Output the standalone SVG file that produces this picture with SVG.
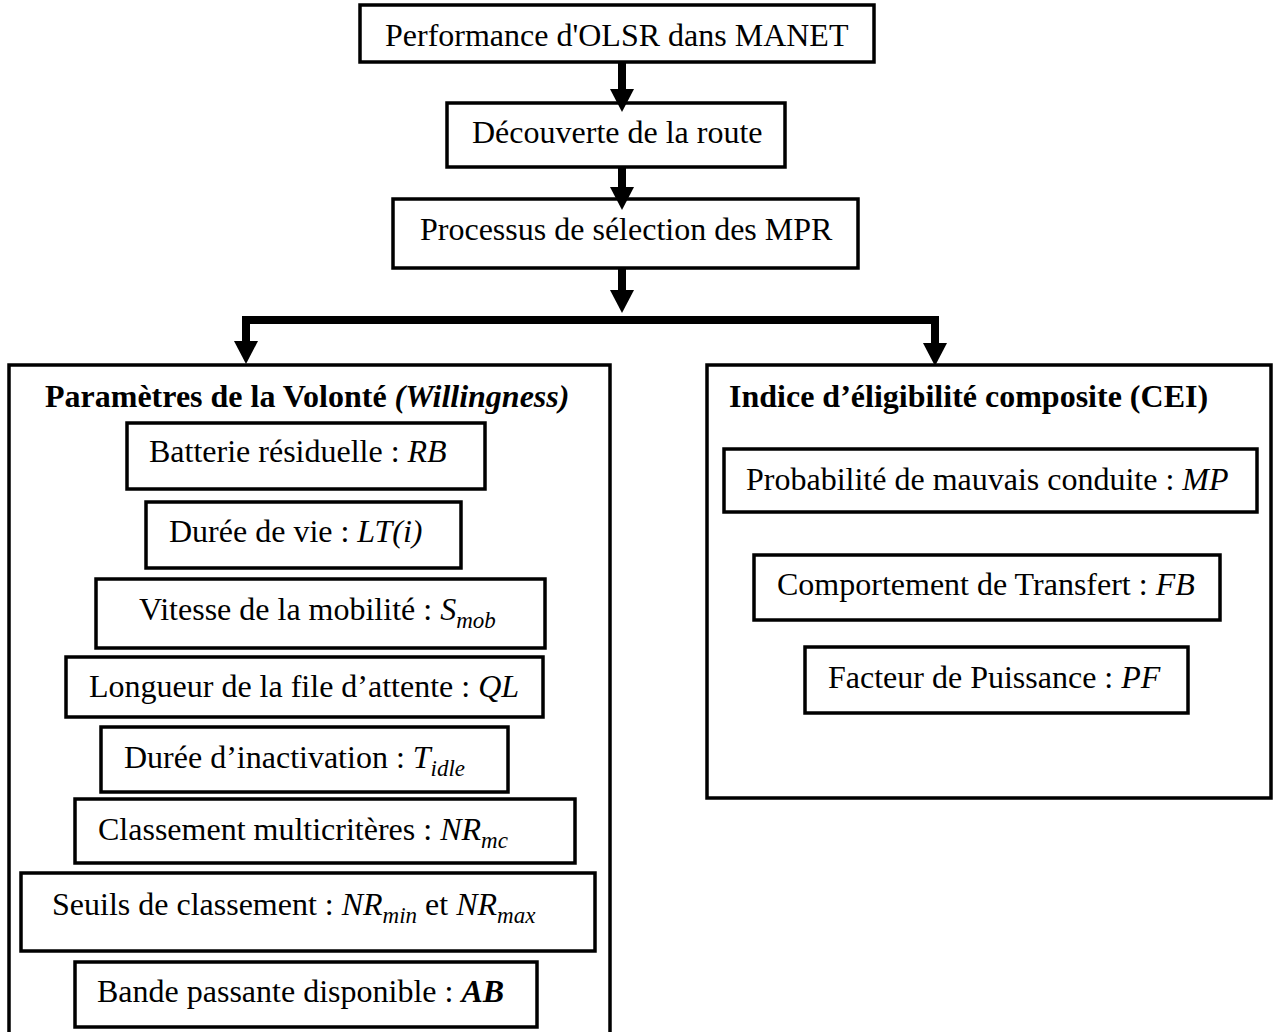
<svg xmlns="http://www.w3.org/2000/svg" width="1273" height="1032" viewBox="0 0 1273 1032">
  <style>
    .box { fill: #ffffff; stroke: #000000; stroke-width: 3.5; }
    .lbl { font-family: "Liberation Serif", "Times New Roman", serif; font-size: 32px; fill: #000000; }
    .ttl { font-family: "Liberation Serif", "Times New Roman", serif; font-size: 32px; font-weight: bold; fill: #000000; }
    .it { font-style: italic; }
    .sub { font-size: 23px; font-style: italic; }
    .wire { fill: none; stroke: #000000; stroke-width: 8; stroke-linejoin: miter; }
  </style>
  <defs>
    <marker id="head" markerUnits="userSpaceOnUse" markerWidth="26" markerHeight="26" refX="2" refY="12" orient="auto">
      <path d="M0,0 L23,12 L0,24 Z" fill="#000000"/>
    </marker>
  </defs>
  <rect width="1273" height="1032" fill="#ffffff"/>

  <!-- outer frames -->
  <g id="willingness">
    <rect class="box" x="9" y="365" width="601" height="690"/>
    <text class="ttl" x="45" y="407">Paramètres de la Volonté <tspan font-style="italic">(Willingness)</tspan></text>
  </g>
  <g id="cei">
    <rect class="box" x="707" y="365" width="564" height="433"/>
    <text class="ttl" x="729" y="407">Indice d’éligibilité composite (CEI)</text>
  </g>

  <!-- main chain -->
  <g id="perf">
    <rect class="box" x="360" y="5" width="514" height="57"/>
    <text class="lbl" x="385" y="46">Performance d'OLSR dans MANET</text>
  </g>
  <g id="route">
    <rect class="box" x="447" y="103" width="338" height="64"/>
    <text class="lbl" x="472" y="143">Découverte de la route</text>
  </g>
  <g id="mpr">
    <rect class="box" x="393" y="199" width="465" height="69"/>
    <text class="lbl" x="420" y="240">Processus de sélection des MPR</text>
  </g>

  <!-- willingness parameters -->
  <g id="rb">
    <rect class="box" x="127" y="423" width="358" height="66"/>
    <text class="lbl" x="149" y="462">Batterie résiduelle : <tspan class="it">RB</tspan></text>
  </g>
  <g id="lt">
    <rect class="box" x="146" y="502" width="315" height="66"/>
    <text class="lbl" x="169" y="542">Durée de vie : <tspan class="it">LT(i)</tspan></text>
  </g>
  <g id="smob">
    <rect class="box" x="96" y="579" width="449" height="69"/>
    <text class="lbl" x="139" y="620">Vitesse de la mobilité : <tspan class="it">S</tspan><tspan class="sub" dy="8">mob</tspan></text>
  </g>
  <g id="ql">
    <rect class="box" x="66" y="657" width="477" height="60"/>
    <text class="lbl" x="89" y="697">Longueur de la file d’attente : <tspan class="it">QL</tspan></text>
  </g>
  <g id="tidle">
    <rect class="box" x="101" y="727" width="407" height="65"/>
    <text class="lbl" x="124" y="768">Durée d’inactivation : <tspan class="it">T</tspan><tspan class="sub" dy="8">idle</tspan></text>
  </g>
  <g id="nrmc">
    <rect class="box" x="75" y="799" width="500" height="64"/>
    <text class="lbl" x="98" y="840">Classement multicritères : <tspan class="it">NR</tspan><tspan class="sub" dy="8">mc</tspan></text>
  </g>
  <g id="seuils">
    <rect class="box" x="21" y="873" width="574" height="78"/>
    <text class="lbl" x="52" y="915">Seuils de classement : <tspan class="it">NR</tspan><tspan class="sub" dy="8">min</tspan><tspan dy="-8"> et </tspan><tspan class="it">NR</tspan><tspan class="sub" dy="8">max</tspan></text>
  </g>
  <g id="ab">
    <rect class="box" x="75" y="962" width="462" height="65"/>
    <text class="lbl" x="97" y="1002">Bande passante disponible : <tspan font-style="italic" font-weight="bold">AB</tspan></text>
  </g>

  <!-- CEI components -->
  <g id="mp">
    <rect class="box" x="724" y="449" width="533" height="63"/>
    <text class="lbl" x="746" y="490">Probabilité de mauvais conduite : <tspan class="it">MP</tspan></text>
  </g>
  <g id="fb">
    <rect class="box" x="754" y="555" width="466" height="65"/>
    <text class="lbl" x="777" y="595">Comportement de Transfert : <tspan class="it">FB</tspan></text>
  </g>
  <g id="pf">
    <rect class="box" x="805" y="647" width="383" height="66"/>
    <text class="lbl" x="828" y="688">Facteur de Puissance : <tspan class="it">PF</tspan></text>
  </g>

  <!-- connectors, drawn over the box borders -->
  <g id="connectors">
    <path class="wire" d="M622,62 L622,91" marker-end="url(#head)"/>
    <path class="wire" d="M622,167 L622,189" marker-end="url(#head)"/>
    <path class="wire" d="M622,268 L622,292" marker-end="url(#head)"/>
    <path class="wire" d="M600,320 L246,320 L246,343" marker-end="url(#head)"/>
    <path class="wire" d="M600,320 L935,320 L935,345" marker-end="url(#head)"/>
  </g>
</svg>
